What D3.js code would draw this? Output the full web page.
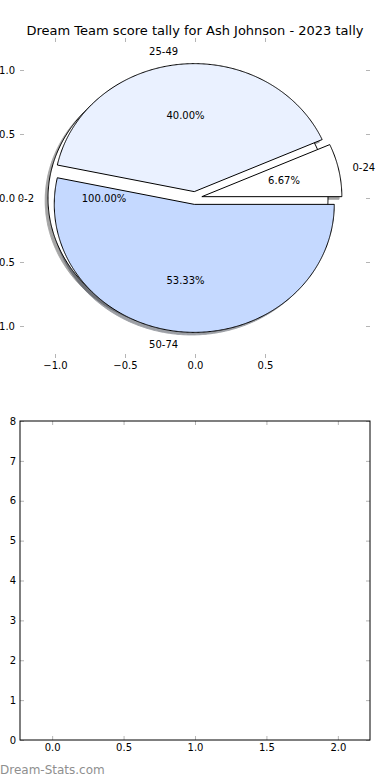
<!DOCTYPE html>
<html>
<head>
<meta charset="utf-8">
<script src="https://cdn.jsdelivr.net/npm/d3@7"></script>
<style>
	body { margin: 0; background: #fff; }
	svg { display: block; font-family: "DejaVu Sans", sans-serif; }
</style>
</head>
<body>
<div id="vis"></div>
<script>
const FRAME_WIDTH = 390;
const FRAME_HEIGHT = 780;

// data
const TITLE = "Dream Team score tally for Ash Johnson - 2023 tally";
const RANGE_LABELS = ["0-24", "25-49", "50-74"];
const RANGE_VALUES = [1, 6, 8];
const RANGE_COLORS = ["#ffffff", "#eaf1ff", "#c5d9ff"];
const EXTRA_LABELS = ["0-2"];
const EXTRA_VALUES = [1];
const EXTRA_COLORS = ["#ffffff"];
const PIE_X_TICKS = [-1.0, -0.5, 0.0, 0.5];
const PIE_Y_TICKS = [-1.0, -0.5, 0.0, 0.5, 1.0];
const BOTTOM_X_TICKS = [0, 0.5, 1, 1.5, 2];
const BOTTOM_Y_TICKS = [0, 1, 2, 3, 4, 5, 6, 7, 8];

const EXPLODE = 0.05;
const SHADOW = -0.02;
const TICK_COLOR = "#b5b5b5";

const PIE_BOX = { left: 20, right: 370, top: 38, bottom: 358 };
const BOT_BOX = { left: 20, right: 370, top: 421, bottom: 740 };

const FRAME = d3.select("#vis")
	.append("svg")
	.attr("width", FRAME_WIDTH)
	.attr("height", FRAME_HEIGHT);

const X_PIE = d3.scaleLinear().domain([-1.25, 1.25]).range([PIE_BOX.left, PIE_BOX.right]);
const Y_PIE = d3.scaleLinear().domain([-1.25, 1.25]).range([PIE_BOX.bottom, PIE_BOX.top]);

const X_BOT = d3.scaleLinear().domain([-0.225, 2.225]).range([BOT_BOX.left, BOT_BOX.right]);
const Y_BOT = d3.scaleLinear().domain([0, 8]).range([BOT_BOX.bottom, BOT_BOX.top]);

// title
FRAME.append("text")
	.attr("x", 195)
	.attr("y", 30)
	.attr("text-anchor", "middle")
	.attr("dominant-baseline", "central")
	.style("font-size", "13px")
	.text(TITLE);

// pie helpers
const PIE = d3.pie().sort(null).value((d) => d);

const LINE = d3.line()
	.x((d) => X_PIE(d[0]))
	.y((d) => Y_PIE(d[1]))
	.curve(d3.curveLinearClosed);

const wedgePoints = (cx, cy, a0, a1, full) => {
	const n = Math.max(2, Math.ceil((a1 - a0) / (Math.PI / 360)));
	const pts = d3.range(n + 1).map((i) => {
		const a = a0 + (a1 - a0) * i / n;
		return [cx + Math.cos(a), cy + Math.sin(a)];
	});
	return full ? pts : [[cx, cy]].concat(pts);
};

const buildSlices = (labels, values, colors) => {
	const total = d3.sum(values);
	return PIE(values).map((d, i) => {
		const mid = (d.startAngle + d.endAngle) / 2;
		return {
			label: labels[i],
			color: colors[i],
			pct: d3.format(".2f")(values[i] / total * 100) + "%",
			a0: d.startAngle,
			a1: d.endAngle,
			mid: mid,
			cx: EXPLODE * Math.cos(mid),
			cy: EXPLODE * Math.sin(mid),
			full: values.length === 1
		};
	});
};

const extraSlices = buildSlices(EXTRA_LABELS, EXTRA_VALUES, EXTRA_COLORS);
const rangeSlices = buildSlices(RANGE_LABELS, RANGE_VALUES, RANGE_COLORS);
const allSlices = extraSlices.concat(rangeSlices);

const shade = (c) => {
	const rgb = d3.rgb(c);
	return d3.rgb(rgb.r * 0.3, rgb.g * 0.3, rgb.b * 0.3).formatHex();
};

// shadows first
FRAME.append("g")
	.selectAll("path")
	.data(allSlices)
	.enter()
	.append("path")
	.attr("d", (d) => LINE(wedgePoints(d.cx + SHADOW, d.cy + SHADOW, d.a0, d.a1, d.full)))
	.attr("fill", (d) => shade(d.color))
	.attr("stroke", (d) => shade(d.color))
	.attr("stroke-width", 1)
	.attr("opacity", 0.5);

// wedges
FRAME.append("g")
	.selectAll("path")
	.data(allSlices)
	.enter()
	.append("path")
	.attr("d", (d) => LINE(wedgePoints(d.cx, d.cy, d.a0, d.a1, d.full)))
	.attr("fill", (d) => d.color)
	.attr("stroke", "#000")
	.attr("stroke-width", 1)
	.attr("stroke-linejoin", "miter");

// slice labels
FRAME.append("g")
	.selectAll("text")
	.data(allSlices)
	.enter()
	.append("text")
	.attr("x", (d) => X_PIE(d.cx + 1.1 * Math.cos(d.mid)))
	.attr("y", (d) => Y_PIE(d.cy + 1.1 * Math.sin(d.mid)))
	.attr("text-anchor", (d) => (d.cx + 1.1 * Math.cos(d.mid)) > 0 ? "start" : "end")
	.attr("dominant-baseline", "central")
	.style("font-size", "10px")
	.text((d) => d.label);

FRAME.append("g")
	.selectAll("text")
	.data(allSlices)
	.enter()
	.append("text")
	.attr("x", (d) => X_PIE(d.cx + 0.6 * Math.cos(d.mid)))
	.attr("y", (d) => Y_PIE(d.cy + 0.6 * Math.sin(d.mid)))
	.attr("text-anchor", "middle")
	.attr("dominant-baseline", "central")
	.style("font-size", "10px")
	.text((d) => d.pct);

// axes: inward grey ticks, matplotlib classic look
const styleAxis = (g) => {
	g.select(".domain").remove();
	g.selectAll(".tick line").attr("stroke", TICK_COLOR);
	g.selectAll(".tick text").attr("fill", "#000").style("font-size", "10px").style("font-family", "DejaVu Sans");
};

const fmt = d3.format(".1f");

// pie axes (no spines)
FRAME.append("g")
	.attr("transform", `translate(0, ${PIE_BOX.bottom})`)
	.call(d3.axisBottom(X_PIE).tickValues(PIE_X_TICKS).tickFormat(fmt).tickSize(-4).tickPadding(4))
	.call(styleAxis);
FRAME.append("g")
	.attr("transform", `translate(0, ${PIE_BOX.top})`)
	.call(d3.axisTop(X_PIE).tickValues(PIE_X_TICKS).tickFormat("").tickSize(-4))
	.call(styleAxis);
FRAME.append("g")
	.attr("transform", `translate(${PIE_BOX.left}, 0)`)
	.call(d3.axisLeft(Y_PIE).tickValues(PIE_Y_TICKS).tickFormat(fmt).tickSize(-4).tickPadding(5))
	.call(styleAxis);
FRAME.append("g")
	.attr("transform", `translate(${PIE_BOX.right}, 0)`)
	.call(d3.axisRight(Y_PIE).tickValues(PIE_Y_TICKS).tickFormat("").tickSize(-4))
	.call(styleAxis);

// bottom empty axes
FRAME.append("g")
	.attr("transform", `translate(0, ${BOT_BOX.bottom})`)
	.call(d3.axisBottom(X_BOT).tickValues(BOTTOM_X_TICKS).tickFormat(fmt).tickSize(-4).tickPadding(4))
	.call(styleAxis);
FRAME.append("g")
	.attr("transform", `translate(0, ${BOT_BOX.top})`)
	.call(d3.axisTop(X_BOT).tickValues(BOTTOM_X_TICKS).tickFormat("").tickSize(-4))
	.call(styleAxis);
FRAME.append("g")
	.attr("transform", `translate(${BOT_BOX.left}, 0)`)
	.call(d3.axisLeft(Y_BOT).tickValues(BOTTOM_Y_TICKS).tickFormat(d3.format("d")).tickSize(-4).tickPadding(4))
	.call(styleAxis);
FRAME.append("g")
	.attr("transform", `translate(${BOT_BOX.right}, 0)`)
	.call(d3.axisRight(Y_BOT).tickValues(BOTTOM_Y_TICKS).tickFormat("").tickSize(-4))
	.call(styleAxis);

FRAME.append("rect")
	.attr("x", BOT_BOX.left)
	.attr("y", BOT_BOX.top)
	.attr("width", BOT_BOX.right - BOT_BOX.left)
	.attr("height", BOT_BOX.bottom - BOT_BOX.top)
	.attr("fill", "none")
	.attr("stroke", "#000")
	.attr("stroke-width", 1);

// watermark
FRAME.append("text")
	.attr("x", 0)
	.attr("y", 770)
	.attr("dominant-baseline", "central")
	.attr("fill", "#8f8f8f")
	.style("font-size", "12px")
	.text("Dream-Stats.com");
</script>
</body>
</html>
